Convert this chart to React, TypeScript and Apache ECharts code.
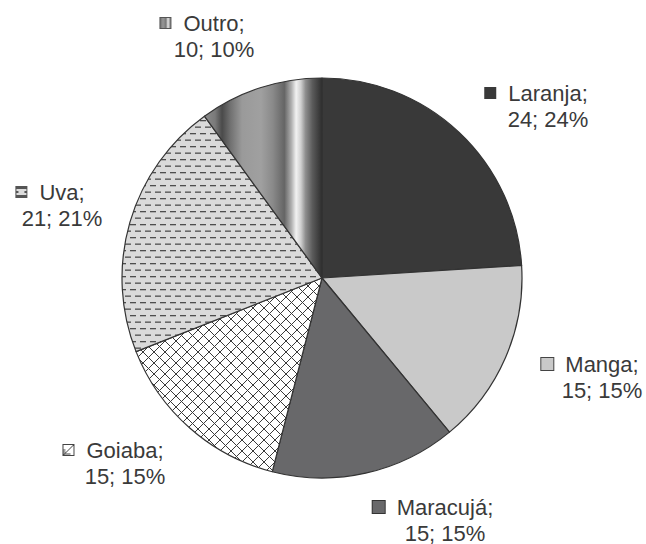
import React, { useEffect, useRef } from "react";
import * as echarts from "echarts";

// ---- data ----
const categories = ["Laranja", "Manga", "Maracujá", "Goiaba", "Uva", "Outro"];
const values = [24, 15, 15, 15, 21, 10];
const percents = [24, 15, 15, 15, 21, 10];

// ---- layout (pixels) ----
const CENTER: [number, number] = [322, 278];
const RADIUS = 200;
// centre of each label's text lines
const LABEL_TEXT_CENTERS: [number, number][] = [
  [548, 106],
  [602, 377],
  [445, 520],
  [125, 463],
  [62, 205],
  [214, 36],
];
const ICON = 12;
const GAP = 12;

const FONT = "'Liberation Sans', Arial, Helvetica, sans-serif";
const TEXT_COLOR = "#3a3a3a";
const EDGE = "#333333";

function makeCanvas(w: number, h: number, draw: (c: CanvasRenderingContext2D) => void) {
  const c = document.createElement("canvas");
  c.width = w;
  c.height = h;
  const ctx = c.getContext("2d")!;
  draw(ctx);
  return c;
}

function crossTile() {
  return makeCanvas(11, 11, (ctx) => {
    ctx.fillStyle = "#ffffff";
    ctx.fillRect(0, 0, 11, 11);
    ctx.strokeStyle = "#3a3a3a";
    ctx.lineWidth = 1;
    ctx.beginPath();
    ctx.moveTo(-1, -1);
    ctx.lineTo(12, 12);
    ctx.moveTo(12, -1);
    ctx.lineTo(-1, 12);
    ctx.stroke();
  });
}

function dashTile() {
  return makeCanvas(10, 13, (ctx) => {
    ctx.fillStyle = "#dadada";
    ctx.fillRect(0, 0, 10, 13);
    ctx.fillStyle = "#4e4e4e";
    ctx.fillRect(0, 3, 6, 1.3);
    ctx.fillRect(5, 9.5, 5, 1.3);
    ctx.fillRect(0, 9.5, 1, 1.3);
  });
}

function iconGoiaba() {
  return makeCanvas(ICON, ICON, (ctx) => {
    ctx.fillStyle = "#fff";
    ctx.fillRect(0, 0, ICON, ICON);
    ctx.strokeStyle = "#444";
    ctx.lineWidth = 1;
    ctx.strokeRect(0.5, 0.5, ICON - 1, ICON - 1);
    ctx.beginPath();
    ctx.moveTo(ICON - 1, 1);
    ctx.lineTo(1, ICON - 1);
    ctx.moveTo(2, 5);
    ctx.lineTo(2, ICON - 2);
    ctx.lineTo(8, ICON - 2);
    ctx.stroke();
  }).toDataURL();
}

function iconUva() {
  return makeCanvas(ICON, ICON, (ctx) => {
    ctx.fillStyle = "#dcdcdc";
    ctx.fillRect(0, 0, ICON, ICON);
    ctx.strokeStyle = "#555";
    ctx.lineWidth = 1;
    ctx.strokeRect(0.5, 0.5, ICON - 1, ICON - 1);
    ctx.fillStyle = "#555";
    ctx.fillRect(1, 1, ICON - 2, 2);
    ctx.fillRect(1, ICON - 3, ICON - 2, 2);
    ctx.fillRect(1, 5, 2, 2);
    ctx.fillRect(ICON - 3, 5, 2, 2);
  }).toDataURL();
}

function iconOutro() {
  return makeCanvas(ICON, ICON, (ctx) => {
    const g = ctx.createLinearGradient(0, 0, ICON, 0);
    g.addColorStop(0, "#666");
    g.addColorStop(0.3, "#999");
    g.addColorStop(0.55, "#777");
    g.addColorStop(0.72, "#eee");
    g.addColorStop(1, "#444");
    ctx.fillStyle = g;
    ctx.fillRect(0, 0, ICON, ICON);
    ctx.strokeStyle = "#555";
    ctx.lineWidth = 1;
    ctx.strokeRect(0.5, 0.5, ICON - 1, ICON - 1);
  }).toDataURL();
}

export default function App() {
  const ref = useRef<HTMLDivElement>(null);

  useEffect(() => {
    if (!ref.current) return;
    const chart = echarts.init(ref.current, undefined, { renderer: "svg" });

    const cross = crossTile();
    const dash = dashTile();

    const outroGradient = {
      type: "linear",
      x: 0,
      y: 0,
      x2: 1,
      y2: 0,
      colorStops: [
        { offset: 0, color: "#8c8c8c" },
        { offset: 0.09, color: "#7a7a7a" },
        { offset: 0.15, color: "#4a4a4a" },
        { offset: 0.22, color: "#707070" },
        { offset: 0.32, color: "#9a9a9a" },
        { offset: 0.48, color: "#a0a0a0" },
        { offset: 0.58, color: "#8a8a8a" },
        { offset: 0.68, color: "#656565" },
        { offset: 0.74, color: "#b0b0b0" },
        { offset: 0.78, color: "#f2f2f2" },
        { offset: 0.82, color: "#d0d0d0" },
        { offset: 0.86, color: "#8e8e8e" },
        { offset: 0.92, color: "#5a5a5a" },
        { offset: 1, color: "#2e2e2e" },
      ],
    };

    const fills: any[] = [
      "#393939",
      "#c9c9c9",
      "#68686a",
      { image: cross.toDataURL(), repeat: "repeat", imageWidth: 11, imageHeight: 11 },
      { image: dash.toDataURL(), repeat: "repeat", imageWidth: 10, imageHeight: 13 },
      outroGradient,
    ];

    const iconStyles: any[] = [
      { backgroundColor: "#393939" },
      { backgroundColor: "#c9c9c9", borderColor: "#444", borderWidth: 1 },
      { backgroundColor: "#68686a", borderColor: "#333", borderWidth: 1 },
      { backgroundColor: { image: iconGoiaba() } },
      { backgroundColor: { image: iconUva() } },
      { backgroundColor: { image: iconOutro() } },
    ];

    const rich: any = {
      g: { width: GAP, height: ICON, align: "center" },
      sp: { width: ICON + GAP, height: ICON, align: "center" },
      t: {
        fontSize: 22,
        fontFamily: FONT,
        color: TEXT_COLOR,
        lineHeight: 26,
        align: "center",
      },
    };
    iconStyles.forEach((s, i) => {
      rich["i" + i] = { width: ICON, height: ICON, align: "center", ...s };
    });

    const data = categories.map((name, i) => ({
      name,
      value: values[i],
      itemStyle: { color: fills[i] },
    }));

    chart.setOption({
      animation: false,
      backgroundColor: "#ffffff",
      series: [
        {
          type: "pie",
          center: CENTER,
          radius: RADIUS,
          startAngle: 90,
          clockwise: true,
          avoidLabelOverlap: false,
          data,
          itemStyle: { borderColor: EDGE, borderWidth: 1.2 },
          emphasis: { disabled: true },
          labelLine: { show: false },
          label: {
            show: true,
            position: "outside",
            align: "center",
            fontSize: 22,
            fontFamily: FONT,
            color: TEXT_COLOR,
            lineHeight: 26,
            formatter: (p: any) =>
              `{i${p.dataIndex}|}{g|}{t|${p.name};}\n{sp|}{t|${values[p.dataIndex]}; ${percents[p.dataIndex]}%}`,
            rich,
          },
          labelLayout: (p: any) => {
            const c = LABEL_TEXT_CENTERS[p.dataIndex];
            return {
              x: c[0] - (ICON + GAP) / 2,
              y: c[1],
              align: "center",
              verticalAlign: "middle",
            };
          },
        },
      ],
    });

    return () => chart.dispose();
  }, []);

  return (
    <div
      ref={ref}
      style={{ position: "fixed", left: 0, top: 0, width: 646, height: 544, background: "#fff" }}
    />
  );
}
